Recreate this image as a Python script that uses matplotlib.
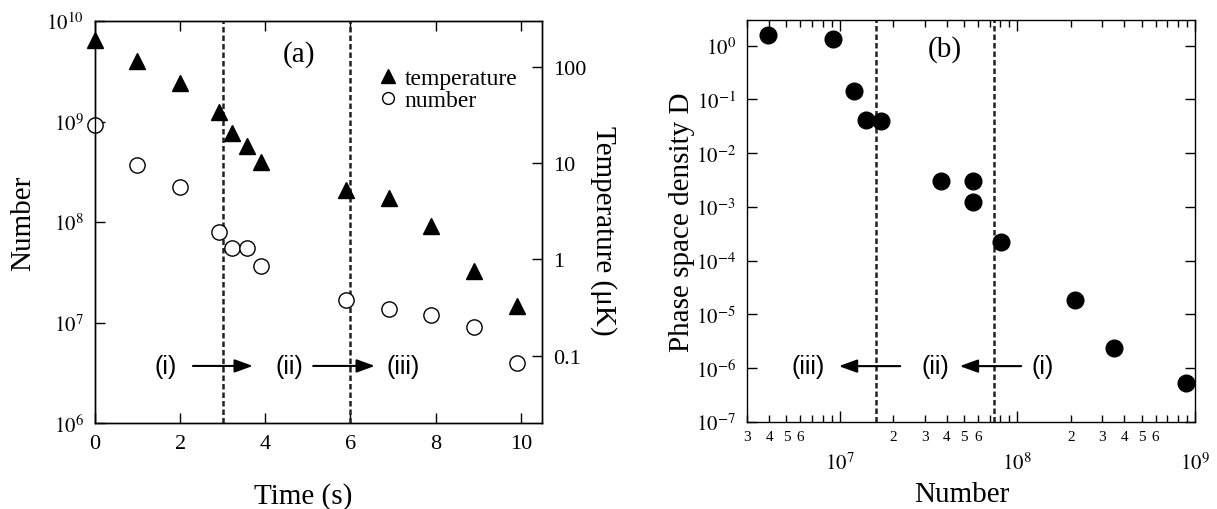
import matplotlib
matplotlib.use('Agg')
import matplotlib.pyplot as plt
import matplotlib.ticker as mticker
import numpy as np
from matplotlib.lines import Line2D

plt.rcParams['font.family'] = ['Liberation Serif', 'DejaVu Serif']
plt.rcParams['mathtext.fontset'] = 'stix'
plt.rcParams['axes.linewidth'] = 1.0

# panel (a): evaporation sequence
time_s = [0, 0.98, 2, 2.9, 3.22, 3.56, 3.9, 5.9, 6.9, 7.9, 8.9, 9.9]
number = [9.2e8, 3.7e8, 2.25e8, 7.95e7, 5.5e7, 5.5e7, 3.65e7, 1.68e7, 1.36e7, 1.19e7, 9.0e6, 3.95e6]
temperature_uK = [190, 115, 68, 34, 20.6, 15.1, 10.3, 5.3, 4.3, 2.23, 0.76, 0.33]
stage_times = [3, 6]

# panel (b): phase space density vs number
psd_number = [3.95e6, 9.1e6, 1.2e7, 1.4e7, 1.71e7, 3.7e7, 5.6e7, 5.6e7, 8.1e7, 2.1e8, 3.5e8, 8.9e8]
psd_D = [1.6, 1.31, 0.145, 0.042, 0.039, 3.1e-3, 3.1e-3, 1.25e-3, 2.2e-4, 1.86e-5, 2.4e-6, 5.3e-7]
stage_numbers = [1.6e7, 7.4e7]

stage_labels = ['(i)', '(ii)', '(iii)']

fig = plt.figure(figsize=(12.17, 5.10), dpi=100)
ax1 = fig.add_axes([0.0781, 0.1686, 0.3673, 0.7882])
ax2 = ax1.twinx()
axb = fig.add_axes([0.6138, 0.1706, 0.3681, 0.7882])

dash = (0, (2.2, 1.2))

# ---- (a) ----
ax1.set_yscale('log')
ax1.set_xlim(0, 10.5)
ax1.set_ylim(1e6, 1e10)
ax1.plot(time_s, number, 'o', mfc='white', mec='k', mew=1.0, ms=11, clip_on=False, zorder=3)
for t in stage_times:
    ax1.axvline(t, color='#222222', lw=1.8, ls=dash, zorder=2)
ax1.set_xticks([0, 2, 4, 6, 8, 10])
ax1.yaxis.set_major_locator(mticker.FixedLocator([1e6, 1e7, 1e8, 1e9, 1e10]))
ax1.yaxis.set_major_formatter(mticker.FuncFormatter(lambda v, p: r'$10^{%d}$' % round(np.log10(v))))
ax1.yaxis.set_minor_locator(mticker.NullLocator())
ax1.tick_params(which='both', direction='in', top=True, length=7, width=1.0, pad=8)
ax1.tick_params(axis='x', labelsize=16)
ax1.tick_params(axis='y', labelsize=15)
ax1.set_xlabel('Time (s)', fontsize=21)
ax1.xaxis.set_label_coords(0.465, -0.148)
ax1.set_ylabel('Number', fontsize=21)
ax1.yaxis.set_label_coords(-0.132, 0.5)

ax2.set_yscale('log')
ax2.set_ylim(0.02, 300)
ax2.plot(time_s, temperature_uK, '^', color='k', ms=11, clip_on=False, zorder=3)
ax2.yaxis.set_major_locator(mticker.FixedLocator([0.1, 1, 10, 100]))
ax2.yaxis.set_major_formatter(mticker.FixedFormatter(['0.1', '1', '10', '100']))
ax2.yaxis.set_minor_locator(mticker.NullLocator())
ax2.tick_params(which='both', direction='in', labelsize=16, length=7, width=1.0, pad=8)
ax2.set_ylabel('Temperature (\u03bcK)', fontsize=21, rotation=270)
ax2.yaxis.set_label_coords(1.168, 0.48)

handles = [Line2D([], [], marker='^', color='k', ls='none', ms=10),
           Line2D([], [], marker='o', mfc='white', mec='k', mew=1.0, ls='none', ms=8.5)]
ax2.legend(handles, ['temperature', 'number'], loc='upper left', bbox_to_anchor=(0.635, 0.885),
           frameon=False, fontsize=17, handlelength=0.8, handletextpad=0.3,
           labelspacing=0.05, borderpad=0, borderaxespad=0)
ax2.text(0.456, 0.92, '(a)', transform=ax2.transAxes, fontsize=21, ha='center', va='center')

arrow_style = dict(arrowstyle='-|>,head_length=0.55,head_width=0.2', color='k', lw=1.5,
                   mutation_scale=20, shrinkA=0, shrinkB=0)
sans = ['Liberation Sans', 'DejaVu Sans']
for lab, x in zip(stage_labels, [0.157, 0.434, 0.689]):
    ax2.text(x, 0.142, lab, transform=ax2.transAxes, fontsize=18, family=sans, ha='center', va='center')
for x0, x1 in [(0.219, 0.353), (0.488, 0.626)]:
    ax2.annotate('', xy=(x1, 0.142), xytext=(x0, 0.142), xycoords='axes fraction', arrowprops=arrow_style)

# ---- (b) ----
axb.set_xscale('log')
axb.set_yscale('log')
axb.set_xlim(3e6, 1e9)
axb.set_ylim(1e-7, 3)
axb.plot(psd_number, psd_D, 'o', color='k', ms=12, clip_on=False, zorder=3)
for n in stage_numbers:
    axb.axvline(n, color='#222222', lw=1.8, ls=dash, zorder=2)
axb.xaxis.set_major_locator(mticker.FixedLocator([1e7, 1e8, 1e9]))
axb.xaxis.set_major_formatter(mticker.FuncFormatter(lambda v, p: r'$10^{%d}$' % round(np.log10(v))))
axb.xaxis.set_minor_locator(mticker.LogLocator(base=10, subs=np.arange(2, 10)))


def minor_label(v, p):
    d = int(round(v / 10 ** np.floor(np.log10(v) + 1e-9)))
    return str(d) if 2 <= d <= 6 else ''


axb.xaxis.set_minor_formatter(mticker.FuncFormatter(minor_label))
axb.yaxis.set_major_locator(mticker.FixedLocator([10.0 ** k for k in range(-7, 1)]))
axb.yaxis.set_major_formatter(mticker.FuncFormatter(lambda v, p: r'$10^{%d}$' % round(np.log10(v))))
axb.yaxis.set_minor_locator(mticker.NullLocator())
axb.tick_params(which='both', direction='in', top=True, right=True, width=1.0)
axb.tick_params(axis='y', which='major', labelsize=15, length=7, pad=8)
axb.tick_params(axis='x', which='major', labelsize=15, length=8, pad=22)
axb.tick_params(axis='x', which='minor', labelsize=11, length=5, pad=6)
axb.set_xlabel('Number', fontsize=21)
axb.xaxis.set_label_coords(0.48, -0.148)
axb.set_ylabel('Phase space density D', fontsize=21)
axb.yaxis.set_label_coords(-0.115, 0.5)
axb.text(0.442, 0.928, '(b)', transform=axb.transAxes, fontsize=21, ha='center', va='center')

for lab, x in zip(stage_labels[::-1], [0.136, 0.42, 0.661]):
    axb.text(x, 0.139, lab, transform=axb.transAxes, fontsize=18, family=sans, ha='center', va='center')
for x0, x1 in [(0.342, 0.205), (0.612, 0.475)]:
    axb.annotate('', xy=(x1, 0.139), xytext=(x0, 0.139), xycoords='axes fraction', arrowprops=arrow_style)

fig.savefig('out.png', dpi=100)
